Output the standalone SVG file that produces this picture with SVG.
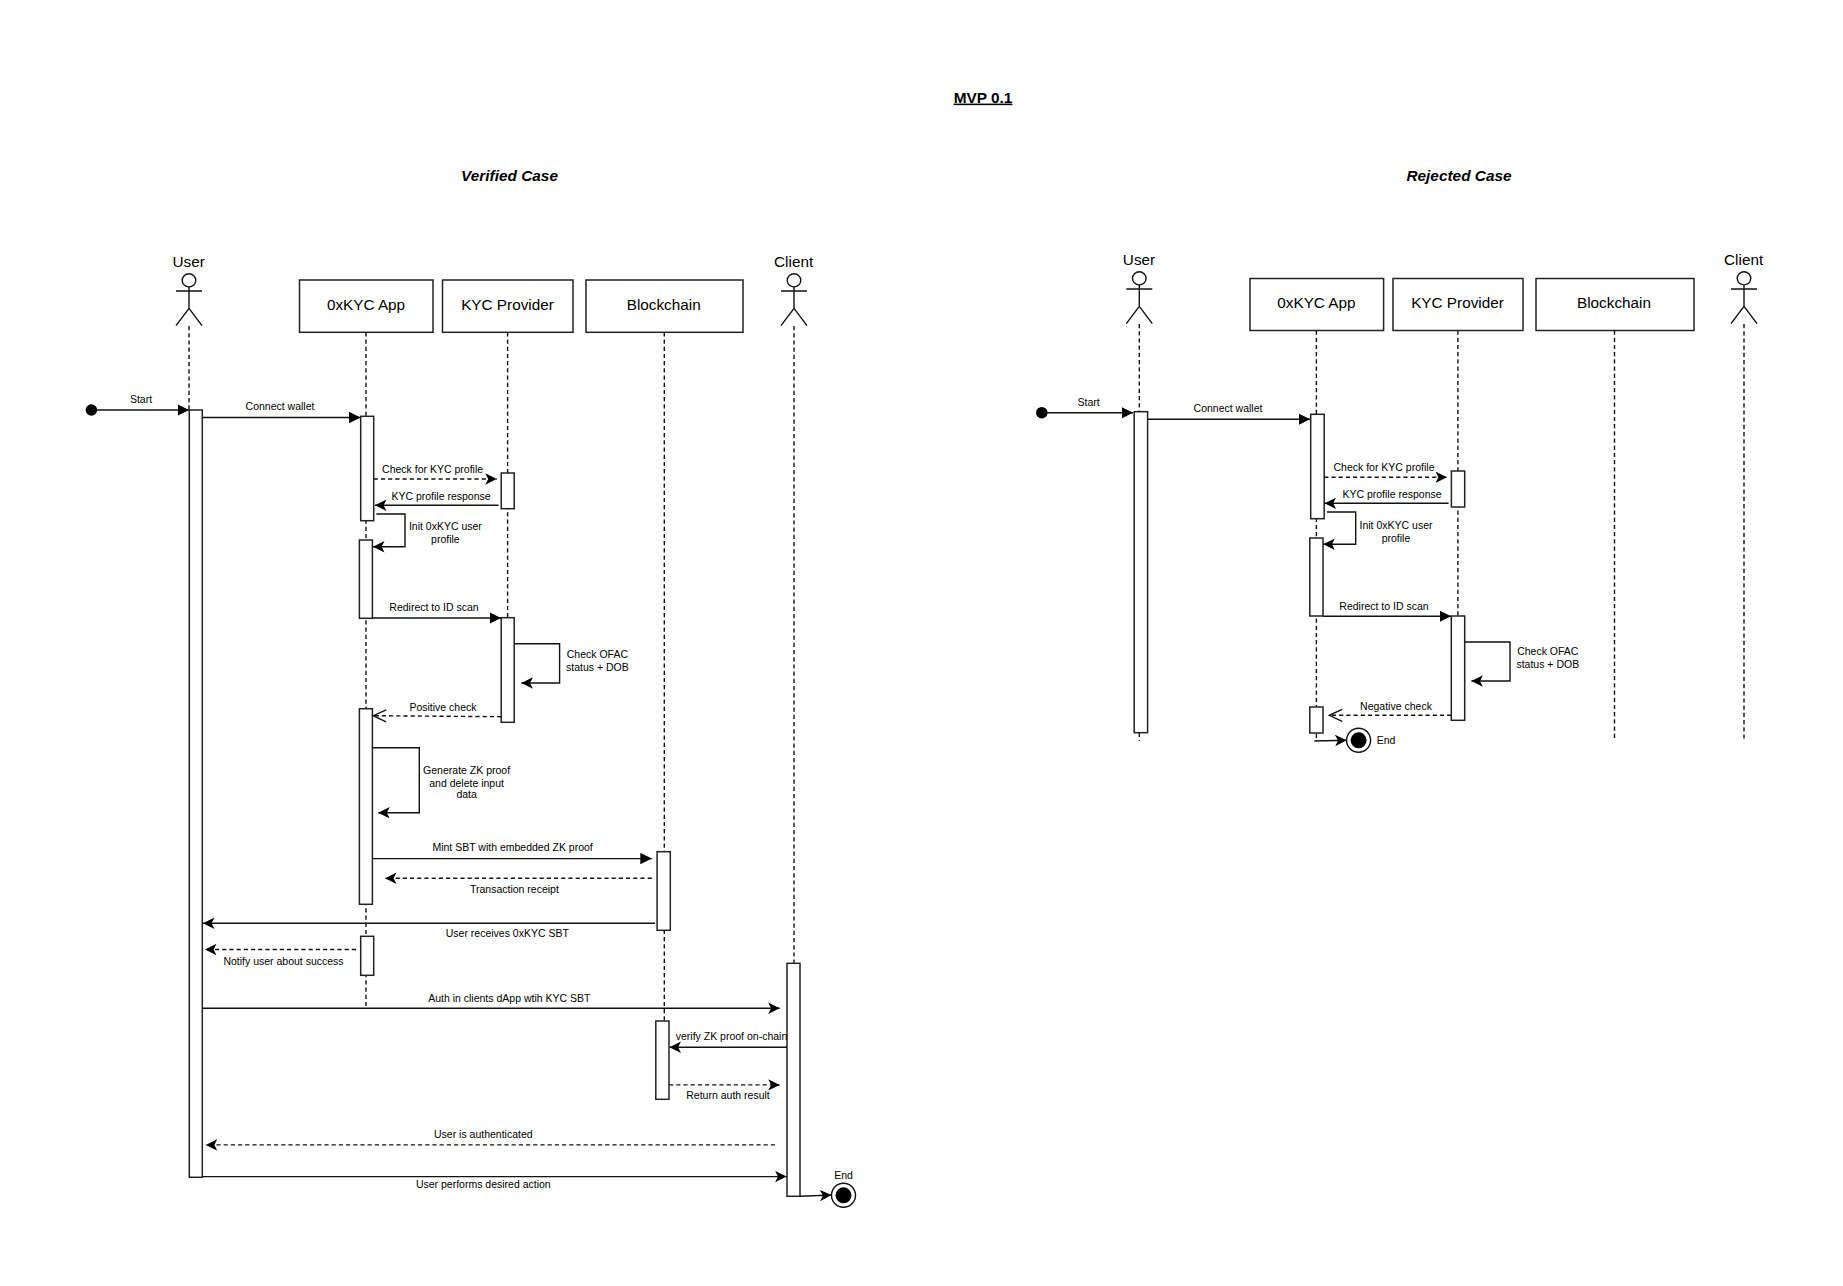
<svg xmlns="http://www.w3.org/2000/svg" width="1843" height="1286" viewBox="0 0 1843 1286">
<style>
text{font-family:"Liberation Sans",Arial,sans-serif;fill:#000;text-anchor:middle}
.l{font-size:10.5px}
.h{font-size:15.3px}
.title{font-size:15.4px;font-weight:bold;text-decoration:underline}
.case{font-size:15.4px;font-weight:bold;font-style:italic}
.box,.act{fill:#fff;stroke:#222;stroke-width:1.5}
.fig{fill:none;stroke:#111;stroke-width:1.4}
.life{fill:none;stroke:#111;stroke-width:1.4;stroke-dasharray:4.2 3}
.c{fill:none;stroke:#111;stroke-width:1.4}
.d{stroke-dasharray:4.2 3}
.b{marker-end:url(#block)}
.k{marker-end:url(#classic)}
.o{marker-end:url(#open)}
.dot{fill:#000;stroke:none}
.ring{fill:#fff;stroke:#111;stroke-width:1.4}
</style>
<defs>
<marker id="block" markerUnits="userSpaceOnUse" markerWidth="13" markerHeight="13" refX="11.5" refY="6" orient="auto"><path d="M0,0.3 L11.5,6 L0,11.7 Z" fill="#000"/></marker>
<marker id="classic" markerUnits="userSpaceOnUse" markerWidth="13" markerHeight="13" refX="11.5" refY="6" orient="auto"><path d="M0,0.3 L11.5,6 L0,11.7 L2.9,6 Z" fill="#000"/></marker>
<marker id="open" markerUnits="userSpaceOnUse" markerWidth="16" markerHeight="16" refX="14" refY="7" orient="auto"><path d="M1,1 L14,7 L1,13" fill="none" stroke="#111" stroke-width="1.3"/></marker>
</defs>
<g id="titles">
<text class="title" x="983" y="102.6">MVP 0.1</text>
<text class="case" x="509.5" y="181">Verified Case</text>
<text class="case" x="1459" y="181">Rejected Case</text>
</g>

<g id="v-user">
<path class="life" d="M189,326V410"/>
<text class="h" x="188.7" y="267">User</text>
<ellipse class="fig" cx="189" cy="280.3" rx="6.8" ry="6.6"/>
<path class="fig" d="M189,287V308.3M176,291H202M176,325.7L189,308.3L202,325.7"/>
<rect class="act" x="189.3" y="410" width="13" height="767.3"/>
</g>
<g id="v-app">
<path class="life" d="M366,332.3V1008"/>
<rect class="box" x="299.5" y="280" width="133.5" height="52.3"/>
<text class="h" x="366" y="310">0xKYC App</text>
<rect class="act" x="360.7" y="416.3" width="13" height="104.4"/>
<rect class="act" x="359.4" y="540" width="13" height="78.3"/>
<rect class="act" x="359.4" y="708.7" width="13" height="195.6"/>
<rect class="act" x="360.7" y="936.3" width="13" height="39"/>
</g>
<g id="v-kyc">
<path class="life" d="M507.6,332.3V617.7"/>
<rect class="box" x="442.5" y="280" width="130.5" height="52.3"/>
<text class="h" x="507.5" y="310">KYC Provider</text>
<rect class="act" x="501.2" y="473" width="13" height="35.7"/>
<rect class="act" x="501.2" y="617.7" width="13" height="104.6"/>
</g>
<g id="v-chain">
<path class="life" d="M664.3,332.3V1021"/>
<rect class="box" x="586" y="280" width="157" height="52.3"/>
<text class="h" x="663.7" y="310">Blockchain</text>
<rect class="act" x="657.1" y="851.7" width="13.2" height="78.6"/>
<rect class="act" x="655.8" y="1021" width="13.2" height="78.3"/>
</g>
<g id="v-client">
<path class="life" d="M794,326V963.3"/>
<text class="h" x="793.6" y="267">Client</text>
<ellipse class="fig" cx="794" cy="280.3" rx="6.8" ry="6.6"/>
<path class="fig" d="M794,287V308.3M781,291H807M781,325.7L794,308.3L807,325.7"/>
<rect class="act" x="787" y="963.3" width="13" height="233"/>
</g>
<g id="v-start"><circle class="dot" cx="91.4" cy="410" r="5.8"/></g>
<g id="v-end">
<ellipse class="ring" cx="843.5" cy="1195.3" rx="12" ry="12"/>
<circle class="dot" cx="843.5" cy="1195.3" r="8"/>
<text class="l" x="843.5" y="1179">End</text>
</g>

<g id="r-user">
<path class="life" d="M1139.3,324V412M1139.3,733V741"/>
<text class="h" x="1139" y="264.6">User</text>
<ellipse class="fig" cx="1139.3" cy="278.3" rx="6.8" ry="6.6"/>
<path class="fig" d="M1139.3,285V306.3M1126.3,289H1152.3M1126.3,323.7L1139.3,306.3L1152.3,323.7"/>
<rect class="act" x="1134.2" y="411.7" width="13.4" height="321"/>
</g>
<g id="r-app">
<path class="life" d="M1316.4,330.5V741"/>
<rect class="box" x="1250" y="278.5" width="133.6" height="52"/>
<text class="h" x="1316.4" y="308.3">0xKYC App</text>
<rect class="act" x="1310.7" y="414.3" width="13.5" height="104.4"/>
<rect class="act" x="1309.8" y="538" width="13.2" height="78"/>
<rect class="act" x="1309.8" y="707" width="13.2" height="26"/>
</g>
<g id="r-kyc">
<path class="life" d="M1457.9,330.5V616"/>
<rect class="box" x="1393" y="278.5" width="130" height="52"/>
<text class="h" x="1457.5" y="308.3">KYC Provider</text>
<rect class="act" x="1451.4" y="471" width="13.3" height="36"/>
<rect class="act" x="1451.3" y="616" width="13.4" height="104.3"/>
</g>
<g id="r-chain">
<path class="life" d="M1614.5,330.5V741"/>
<rect class="box" x="1536" y="278.5" width="158" height="52"/>
<text class="h" x="1614" y="308.3">Blockchain</text>
</g>
<g id="r-client">
<path class="life" d="M1744,324V741"/>
<text class="h" x="1743.6" y="264.6">Client</text>
<ellipse class="fig" cx="1744" cy="278.3" rx="6.8" ry="6.6"/>
<path class="fig" d="M1744,285V306.3M1731,289H1757M1731,323.7L1744,306.3L1757,323.7"/>
</g>
<g id="r-start"><circle class="dot" cx="1041.8" cy="412.7" r="5.8"/></g>
<g id="r-end">
<ellipse class="ring" cx="1358.6" cy="740.3" rx="12" ry="12"/>
<circle class="dot" cx="1358.6" cy="740.3" r="8"/>
<text class="l" x="1386" y="744">End</text>
</g>

<g id="connectors">
<path class="c b" d="M91.4,410H189"/>
<path class="c b" d="M202.3,417.5H360.5"/>
<path class="c d k" d="M373.7,479H496.8"/>
<path class="c k" d="M498.6,505.3H375"/>
<path class="c k" d="M376.4,514H405V546.7H373"/>
<path class="c b" d="M372.4,618H501"/>
<path class="c k" d="M514.2,643.7H559.6V683H521.4"/>
<path class="c d o" d="M501.2,716.7L373.2,715.7"/>
<path class="c k" d="M372.4,747.7H419.3V812.7H378.2"/>
<path class="c b" d="M372.4,858.6H651.8"/>
<path class="c d k" d="M651.8,878.3H385"/>
<path class="c k" d="M655,923.3H203"/>
<path class="c d k" d="M356,949.5H205"/>
<path class="c k" d="M202.3,1008.3H779.7"/>
<path class="c k" d="M787,1047.3H669.5"/>
<path class="c d k" d="M669,1084.9H779.7"/>
<path class="c d k" d="M775,1144.9H205.8"/>
<path class="c k" d="M202.3,1176.6H786.6"/>
<path class="c k" d="M800,1196.3L831.5,1195"/>

<path class="c b" d="M1041.8,412.7H1133"/>
<path class="c b" d="M1147.6,419.3H1310"/>
<path class="c d k" d="M1324.2,477.3H1447"/>
<path class="c k" d="M1448.6,503.3H1324.6"/>
<path class="c k" d="M1327,512H1355.7V544.3H1323.3"/>
<path class="c b" d="M1323,616.3H1451"/>
<path class="c k" d="M1464.7,642H1510V681H1471.4"/>
<path class="c d o" d="M1451.3,715.3H1329.2"/>
<path class="c k" d="M1314.4,741L1346.6,740.3"/>
</g>

<g id="labels">
<text class="l" x="141" y="403">Start</text>
<text class="l" x="280" y="410">Connect wallet</text>
<text class="l" x="432.6" y="473">Check for KYC profile</text>
<text class="l" x="441" y="500">KYC profile response</text>
<text class="l" x="445.4" y="530">Init 0xKYC user</text>
<text class="l" x="445.4" y="543.3">profile</text>
<text class="l" x="434" y="611">Redirect to ID scan</text>
<text class="l" x="597.4" y="658">Check OFAC</text>
<text class="l" x="597.4" y="671">status + DOB</text>
<text class="l" x="443" y="711">Positive check</text>
<text class="l" x="466.6" y="774">Generate ZK proof</text>
<text class="l" x="466.6" y="787">and delete input</text>
<text class="l" x="466.6" y="798">data</text>
<text class="l" x="512.6" y="851">Mint SBT with embedded ZK proof</text>
<text class="l" x="514.4" y="893">Transaction receipt</text>
<text class="l" x="507.3" y="937">User receives 0xKYC SBT</text>
<text class="l" x="283.5" y="964.7">Notify user about success</text>
<text class="l" x="509.3" y="1001.7">Auth in clients dApp wtih KYC SBT</text>
<text class="l" x="731.5" y="1040">verify ZK proof on-chain</text>
<text class="l" x="728" y="1099">Return auth result</text>
<text class="l" x="483.3" y="1138">User is authenticated</text>
<text class="l" x="483.3" y="1187.7">User performs desired action</text>

<text class="l" x="1088.6" y="405.7">Start</text>
<text class="l" x="1228" y="412">Connect wallet</text>
<text class="l" x="1384" y="471">Check for KYC profile</text>
<text class="l" x="1392" y="498">KYC profile response</text>
<text class="l" x="1396" y="529">Init 0xKYC user</text>
<text class="l" x="1396" y="542">profile</text>
<text class="l" x="1384" y="610">Redirect to ID scan</text>
<text class="l" x="1547.8" y="655">Check OFAC</text>
<text class="l" x="1547.8" y="668">status + DOB</text>
<text class="l" x="1396" y="710">Negative check</text>
</g>
</svg>
